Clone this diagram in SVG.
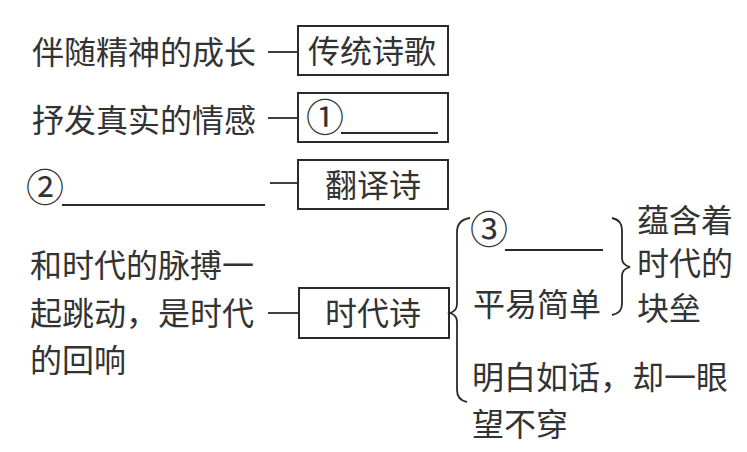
<svg xmlns="http://www.w3.org/2000/svg" width="747" height="452" viewBox="0 0 747 452">
<style>
text{font-family:"Noto Sans CJK SC","Noto Sans",sans-serif;font-size:32px;fill:#333}
.num{font-size:38px}
.box{fill:none;stroke:#2a2a2a;stroke-width:2}
.ln{fill:none;stroke:#2a2a2a;stroke-width:1.8}
</style>
<rect width="747" height="452" fill="#fff"/>
<g id="connectors">
<line class="ln" x1="268" y1="52" x2="298" y2="52"/>
<line class="ln" x1="268" y1="118" x2="298" y2="118"/>
<line class="ln" x1="270" y1="183" x2="298" y2="183"/>
<line class="ln" x1="268" y1="313" x2="299" y2="313"/>
<path class="ln" d="M470,218 Q457,220 457,232 L457,304 Q457,311 450,313 Q457,315 457,322 L457,390 Q457,400 467,402"/>
<path class="ln" d="M612,218 Q622,220 622,230 L622,258 Q622,265 630,267 Q622,269 622,276 L622,304 Q622,313 612,315"/>
</g>
<g id="n1">
<text x="32" y="64">伴随精神的成长</text>
<rect class="box" x="298" y="26" width="150" height="49"/>
<text x="308" y="63">传统诗歌</text>
</g>
<g id="n2">
<text x="32" y="132">抒发真实的情感</text>
<rect class="box" x="298" y="93" width="150" height="49"/>
<text class="num" x="306" y="131">①</text>
<line class="ln" x1="341" y1="133" x2="438" y2="133"/>
</g>
<g id="n3">
<text class="num" x="26" y="201">②</text>
<line class="ln" x1="62" y1="205" x2="265" y2="205"/>
<rect class="box" x="298" y="160" width="150" height="49"/>
<text x="325" y="197">翻译诗</text>
</g>
<g id="n4">
<text x="30" y="277">和时代的脉搏一</text>
<text x="30" y="325">起跳动，是时代</text>
<text x="30" y="372">的回响</text>
<rect class="box" x="299" y="288" width="150" height="50"/>
<text x="325" y="325">时代诗</text>
</g>
<g id="n5">
<text class="num" x="470" y="243">③</text>
<line class="ln" x1="505" y1="250" x2="603" y2="250"/>
<text x="473" y="316">平易简单</text>
</g>
<g id="n6">
<text x="637" y="232">蕴含着</text>
<text x="637" y="275">时代的</text>
<text x="637" y="320">块垒</text>
</g>
<g id="n7">
<text x="472" y="389">明白如话，却一眼</text>
<text x="472" y="436">望不穿</text>
</g>
</svg>
